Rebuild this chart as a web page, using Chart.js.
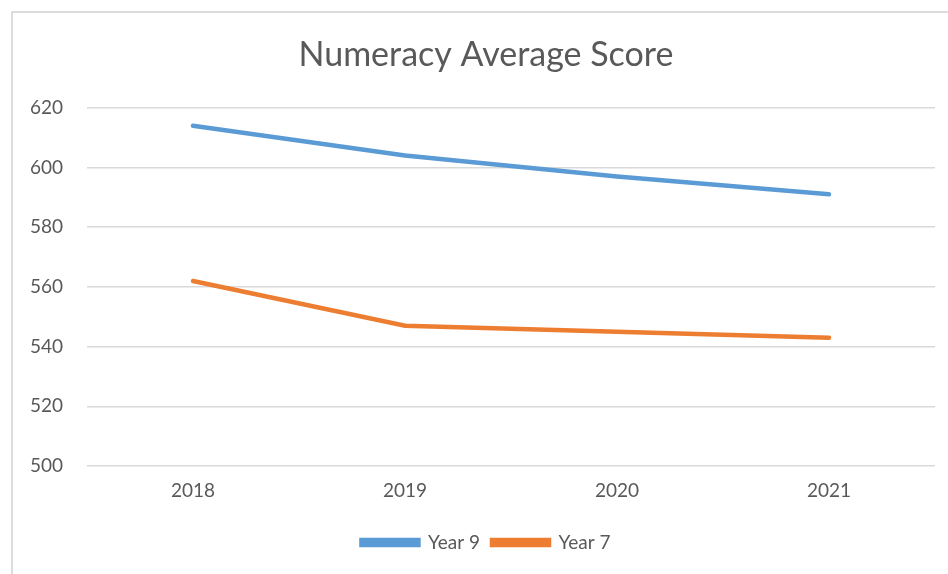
<!doctype html>
<html>
    <head>
        <title>Numeracy Average Score</title>
        <script src="https://cdn.jsdelivr.net/npm/chart.js@4.4.0/dist/chart.umd.min.js"></script>
        <style>
            body { margin: 0; background: #fff; }
            #container { position: relative; width: 948px; height: 574px; overflow: hidden; }
            #frame { position: absolute; left: 11px; top: 11px; width: 1000px; height: 700px;
                     border: 2px solid #dcdcdc; pointer-events: none; }
        </style>
    </head>
    <body>
        <div id=container>
            <canvas id="scoreChart" width="948" height="574"></canvas>
            <div id=frame></div>
        </div>

        <script>
            var years = ['2018', '2019', '2020', '2021'];
            var year9 = [614, 604, 597, 591];
            var year7 = [562, 547, 545, 543];

            var grey = '#595959';

            // Excel centres title and legend over the whole (wider) frame, so nudge them right
            var shiftBlocks = {
                id: 'shiftBlocks',
                afterLayout: function (chart) {
                    chart.titleBlock.left += 37;
                    chart.legend.left += 37;
                }
            };

            var ctx = document.getElementById('scoreChart').getContext('2d');
            var chart = new Chart(ctx, {
                type: 'line',

                data: {
                    labels: years,
                    datasets: [{
                        label: 'Year 9',
                        data: year9,
                        borderColor: '#5B9BD5',
                        backgroundColor: '#5B9BD5',
                        borderWidth: 4.5,
                        pointRadius: 0,
                        borderCapStyle: 'round',
                        fill: false
                    }, {
                        label: 'Year 7',
                        data: year7,
                        borderColor: '#ED7D31',
                        backgroundColor: '#ED7D31',
                        borderWidth: 4.5,
                        pointRadius: 0,
                        borderCapStyle: 'round',
                        fill: false
                    }]
                },

                options: {
                    responsive: false,
                    animation: false,
                    layout: { padding: { left: 0, right: 13, top: 0, bottom: 12 } },
                    plugins: {
                        title: {
                            display: true,
                            text: 'Numeracy Average Score',
                            color: grey,
                            font: { family: 'Lato', size: 34, weight: 'normal' },
                            padding: { top: 35, bottom: 32 }
                        },
                        legend: {
                            position: 'bottom',
                            labels: {
                                color: grey,
                                font: { family: 'Lato', size: 19 },
                                boxWidth: 57,
                                boxHeight: 5,
                                padding: 12
                            }
                        },
                        tooltip: { enabled: false }
                    },
                    scales: {
                        x: {
                            offset: true,
                            grid: { display: false },
                            border: { display: false },
                            ticks: { color: grey, font: { family: 'Lato', size: 19 }, padding: 5 },
                            afterFit: function (s) { s.height = 55; }
                        },
                        y: {
                            min: 500,
                            max: 620,
                            grid: { color: '#d9d9d9', lineWidth: 1.5, drawTicks: false },
                            border: { display: false },
                            ticks: { stepSize: 20, color: grey, font: { family: 'Lato', size: 19 }, padding: 24 },
                            afterFit: function (s) { s.width = 87; }
                        }
                    }
                },
                plugins: [shiftBlocks]
            });
        </script>
    </body>
</html>
